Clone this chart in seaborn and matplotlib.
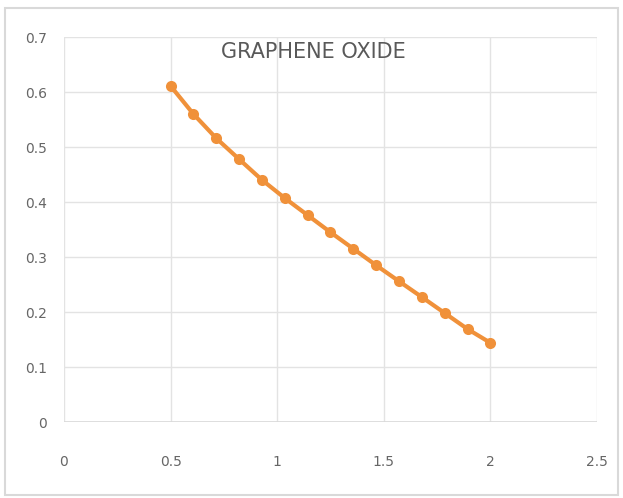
# graphene oxide line chart

import numpy as np
import pandas as pd
import matplotlib.pyplot as plt
import seaborn as sns
from matplotlib.patches import Rectangle

x_vals = [0.5, 0.607, 0.714, 0.821, 0.929, 1.036, 1.143, 1.25, 1.357, 1.464, 1.571, 1.679, 1.786, 1.893, 2.0]
y_vals = [0.611, 0.560, 0.516, 0.478, 0.440, 0.407, 0.376, 0.345, 0.315, 0.285, 0.256, 0.227, 0.198, 0.169, 0.144]
x_ticks = [0, 0.5, 1, 1.5, 2, 2.5]
y_ticks = [0, 0.1, 0.2, 0.3, 0.4, 0.5, 0.6, 0.7]
title = 'GRAPHENE OXIDE'

df = pd.DataFrame({'x': x_vals, 'y': y_vals})

sns.set_style('white')
plt.rcParams['font.family'] = ['DejaVu Sans']

fig = plt.figure(figsize=(6.23, 4.98), dpi=100)
ax = fig.add_axes([0.1027, 0.1526, 0.8555, 0.7731])

sns.lineplot(data=df, x='x', y='y', ax=ax, color='#F0913A', linewidth=3,
             marker='o', markersize=8, markeredgewidth=0)

ax.set_xlim(0, 2.5)
ax.set_ylim(0, 0.7)
ax.set_xticks(x_ticks)
ax.set_xticklabels([str(t) for t in x_ticks])
ax.set_yticks(y_ticks)
ax.set_yticklabels([str(t) for t in y_ticks])
ax.grid(True, color='#e3e3e3', linewidth=1)
ax.set_axisbelow(True)
for s in ax.spines.values():
    s.set_visible(False)
ax.axhline(0, color='#d9d9d9', linewidth=1.2)
ax.tick_params(axis='both', colors='#666666', labelsize=10, length=0)
ax.tick_params(axis='x', pad=24)
ax.tick_params(axis='y', pad=12)
ax.set_xlabel('')
ax.set_ylabel('')

ax.text(1.17, 0.673, title, ha='center', va='center', fontsize=15, color='#595959')

# outer chart border
fig.patches.append(Rectangle((5/623, 3/498), 613/623, 487/498, transform=fig.transFigure,
                             fill=False, edgecolor='#d9d9d9', linewidth=1.5))

plt.savefig('out.png', dpi=100)
